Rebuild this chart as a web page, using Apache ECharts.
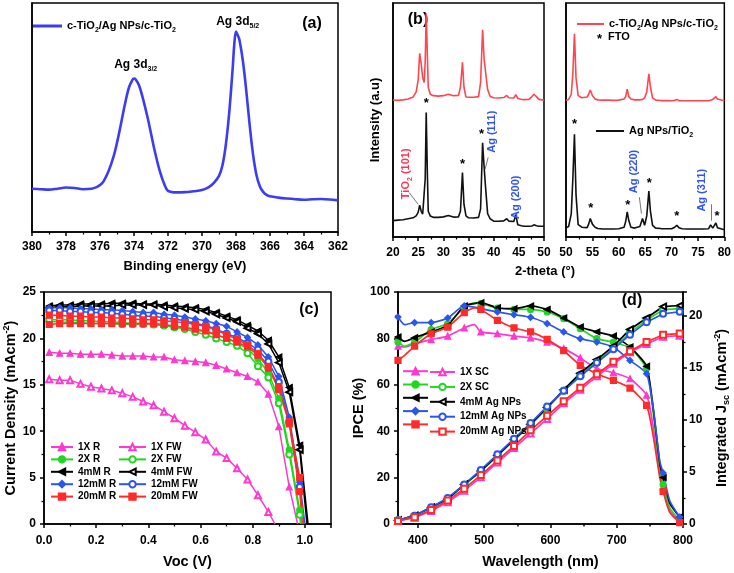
<!DOCTYPE html>
<html><head><meta charset="utf-8">
<script src="https://cdn.jsdelivr.net/npm/echarts@6/dist/echarts.min.js"></script>
<style>html,body{margin:0;padding:0;background:#fff}#c{width:734px;height:573px}</style>
</head><body><div id="c"></div>
<script>
// ---------- (a) XPS ----------
const xpsEnergy = [380,379.5,379,378.5,378,377.5,377,376.5,376.2,376,375.8,375.5,375.2,375,374.8,374.5,374.3,374.1,374,373.9,373.7,373.5,373.2,373,372.8,372.5,372.2,372,371.5,371,370.5,370,369.6,369.3,369,368.8,368.6,368.4,368.2,368.1,368,367.9,367.8,367.6,367.4,367.2,367,366.8,366.6,366.4,366.2,366,365.5,365,364.5,364,363.5,363,362.5,362];
const xpsIntensity = [18.9,18.7,18.5,18.9,19.4,19.2,18.7,18.9,19.6,20.5,22,26.5,33,39,46,57,63,66.3,67,66.6,64,59,50,43,36,27,20.5,18,17.3,17.4,17.8,18.3,19.6,21.5,24.5,29,38,52,71,82,87.5,86,84,75,62,47,34,25,20,17.5,16.2,15.6,15,14.6,14.3,14.1,14.3,14.4,14.2,13.8];

// ---------- (b) XRD ----------
const xrdLeftTheta = [20,21,22,23,24,24.6,25.0,25.3,25.6,25.9,26.2,26.4,26.6,26.8,27.0,27.4,28,29,30,31,32,33,33.4,33.8,34.1,34.5,35,36,37,37.4,37.8,38.1,38.4,38.8,39.3,40,41,42,42.6,43,44,44.4,44.8,45.5,46,47,47.6,48.0,48.5,49,50];
const xrdLeftRed = [58.5,58.4,58.6,59,59.8,62,67,78.5,74,68,66,75,95.4,80,64,61,60.4,60.2,60.4,61,60.4,60.5,64,74.7,64,59.8,59.7,59.7,60,66,88.6,76,70.4,63,60,59.5,59.4,59.6,60.5,59.5,59.4,60.8,59.2,58.9,58.7,58.8,60,61,60,58.8,58.5];
const xrdLeftBlack = [7.0,7.2,7.4,7.8,8.2,9.0,10.5,13.6,11,9.8,10.5,25,53.2,30,11,9,8.4,8.4,8.6,9.2,8.5,8.6,11,27.5,14,9.0,8.2,8.1,8.4,12,40.3,30,21,10,7.8,6.8,6.7,6.9,7.8,6.8,6.6,9.5,5.2,4.8,4.6,4.6,4.7,5.2,4.8,4.6,4.6];
const xrdRightTheta = [50,50.5,51.0,51.3,51.6,51.9,52.3,53,54,54.3,54.6,55.0,55.5,56,57,58,59,60,61,61.3,61.6,61.9,62.3,63,64,64.5,64.9,65.3,65.7,66.0,66.4,67,68,69,70,70.6,71.0,71.4,72,73,74,75,76,77,77.4,77.8,78.1,78.4,78.7,79,80];
const xrdRightRed = [58.5,58.8,61,70,86.8,68,60.4,59.5,59.8,61,62.8,60.5,59,58.6,58.5,58.5,58.4,58.5,59,60,63.2,60,59,58.6,58.6,58.8,59.5,62,69.7,64,59.5,58.5,58.3,58.3,58.2,58.4,58.8,58.3,58.2,58.2,58.2,58.2,58.2,58.3,58.4,58.8,59.5,60.0,59,58.3,58.2];
const xrdRightBlack = [3.9,4.5,10,25,43.9,18,5.3,4.2,4.0,5.5,7.9,5.5,4.2,3.6,3.4,3.4,3.4,3.5,4.2,6.5,10.7,7,4.2,3.8,4.5,7.9,5.0,9,19.6,11,5.0,3.8,3.6,3.5,3.5,4.2,5.0,4.0,3.5,3.4,3.4,3.4,3.4,3.5,5.2,3.8,4.5,6.0,4.0,3.3,3.1];
const ftoStarTheta = [26.6,33.8,37.6,51.6,54.7,61.7,65.8,71.0,78.6];
const ftoStarLevel = [57,31,44,48,12,13.5,23,9,9];

// ---------- (c) J-V ----------
const jvVoltage = [0.02,0.06,0.10,0.14,0.18,0.22,0.26,0.30,0.34,0.38,0.42,0.46,0.50,0.54,0.58,0.62,0.66,0.70,0.74,0.78,0.82,0.86,0.90,0.94,0.98];
const jv1XR   = [18.5,18.4,18.4,18.3,18.3,18.3,18.2,18.1,18.1,18.1,18.0,18.0,17.7,17.6,17.5,17.4,17.1,16.7,16.3,15.9,15.3,14.0,10.5,4.0];
const jv1XFW  = [15.6,15.5,15.5,15.1,14.8,14.6,14.4,14.1,13.7,13.2,12.8,12.1,11.4,10.6,9.9,9.1,7.8,7.1,6.0,4.8,3.1,1.3];
const jv2XR   = [21.8,21.8,21.7,21.7,21.6,21.6,21.6,21.5,21.5,21.5,21.5,21.4,21.3,21.1,20.9,20.7,20.4,20.0,19.5,18.9,17.8,16.3,13.5,8.0,1.5];
const jv2XFW  = [22.0,22.0,22.0,21.9,21.9,21.8,21.8,21.7,21.6,21.6,21.5,21.4,21.2,21.0,20.7,20.4,20.0,19.6,19.2,18.4,17.0,15.8,13.0,7.5,1.0];
const jv4mMR  = [23.5,23.6,23.6,23.7,23.7,23.7,23.8,23.8,23.8,23.7,23.7,23.6,23.5,23.4,23.3,23.1,22.8,22.4,22.0,21.4,20.8,19.8,18.0,14.7,8.5];
const jv4mMFW = [23.3,23.4,23.4,23.5,23.5,23.5,23.5,23.6,23.6,23.6,23.6,23.4,23.3,23.2,23.1,22.9,22.6,22.2,21.8,21.1,20.5,19.4,17.4,14.2,8.0];
const jv12mMR = [23.3,23.3,23.3,23.2,23.2,23.1,23.1,23.0,22.9,22.8,22.8,22.6,22.5,22.3,22.1,21.9,21.6,21.3,20.7,20.1,19.3,18.0,15.9,11.5,4.5];
const jv12mMFW= [23.0,23.0,22.9,22.9,22.8,22.8,22.7,22.6,22.5,22.4,22.4,22.2,22.1,21.9,21.6,21.4,21.0,20.5,20.1,19.5,18.8,17.5,15.3,11.0,4.0];
const jv20mMR = [22.5,22.5,22.4,22.4,22.3,22.3,22.2,22.2,22.1,22.0,22.0,21.9,21.8,21.7,21.5,21.3,20.9,20.4,19.9,19.3,18.4,17.0,14.8,11.0,5.0];
const jv20mMFW= [21.5,21.6,21.6,21.6,21.6,21.6,21.6,21.6,21.6,21.6,21.6,21.5,21.3,21.2,21.0,20.8,20.4,20.0,19.6,19.1,18.2,16.8,14.5,10.8,3.5];
const jvNames = ['1X R','1X FW','2X R','2X FW','4mM R','4mM FW','12mM R','12mM FW','20mM R','20mM FW'];
const jvVoc = [0.972,0.885,0.985,0.983,1.012,1.008,1.0,0.997,0.995,0.99];

// ---------- (d) IPCE & integrated Jsc ----------
const ipceWavelength = [370,380,395,420,445,470,485,495,520,545,570,595,620,645,670,695,720,745,755,765,770,780,795];
const ipce1X   = [76.7,76.3,77.7,79.5,81.0,84.5,85.9,82.8,82.0,81.0,80.2,78.4,75.6,71.6,67.0,65.2,62.6,55.5,42.0,22.0,16.0,6.0,0.9];
const ipce2X   = [78.4,76.6,78.4,83.8,86.4,93.5,95.3,95.0,93.1,92.5,92.5,91.4,88.5,84.2,79.9,78.4,75.9,67.0,48.0,24.0,17.0,7.0,1.6];
const ipce4mM  = [80.6,78.7,80.3,82.8,85.6,94.0,95.0,95.4,93.2,92.8,94.0,92.5,88.8,84.9,82.8,81.0,76.3,68.0,50.0,26.0,20.0,9.0,3.0];
const ipce12mM = [89.2,85.9,86.8,86.8,88.8,94.0,93.5,92.8,91.4,90.2,89.1,86.4,82.8,79.9,78.4,76.3,70.5,64.8,50.0,27.0,22.0,10.0,3.0];
const ipce20mM = [70.5,72.7,76.7,82.0,84.9,91.1,93.1,92.5,87.8,84.5,82.8,79.6,74.7,68.4,64.8,61.9,58.6,51.1,38.0,20.0,14.0,5.0,0.6];
const jscWavelength = [370,395,420,445,470,495,520,545,570,595,620,645,670,695,720,745,770,795];
const jsc1X   = [0.3,0.6,1.25,2.1,3.2,4.5,5.9,7.3,8.7,10.1,11.6,12.9,14.2,15.4,16.5,17.3,18.0,18.1];
const jsc2X   = [0.35,0.8,1.55,2.4,3.75,5.05,6.55,8.05,9.5,11.1,12.8,14.3,15.6,16.9,18.4,19.6,20.6,20.7];
const jsc4mM  = [0.35,0.8,1.6,2.4,3.8,5.1,6.6,8.1,9.6,11.2,12.9,14.5,15.8,17.1,18.7,19.8,20.9,21.0];
const jsc12mM = [0.35,0.8,1.6,2.5,3.8,5.2,6.7,8.2,9.7,11.3,12.8,14.2,15.5,16.8,18.2,19.4,20.2,20.4];
const jsc20mM = [0.3,0.65,1.35,2.25,3.4,4.7,6.1,7.5,9.0,10.4,11.8,13.1,14.4,15.6,16.6,17.5,18.2,18.3];
const ipceNames = ['1X SC','2X SC','4mM Ag NPs','12mM Ag NPs','20mM Ag NPs'];
const wlTicks = [400,500,600,700,800];
const wlMinorTicks = [450,550,650,750];

// ---------- styling ----------
const FF = "'Liberation Sans', Arial, Helvetica, sans-serif";
const COL = {mag:'#ff38d2', green:'#22d622', black:'#000000', blue:'#2a56f0', red:'#ff2a2a', xps:'#3c3cf2', xrdRed:'#ff4650'};
function richSet(fs, color){
  const s = Math.round(fs*0.62);
  return {
    n:{fontFamily:FF,fontWeight:'bold',fontSize:fs,color:color,lineHeight:fs+4},
    sub:{fontFamily:FF,fontWeight:'bold',fontSize:s,color:color,lineHeight:s+1,verticalAlign:'bottom'},
    sup:{fontFamily:FF,fontWeight:'bold',fontSize:s,color:color,lineHeight:s+1,verticalAlign:'top'}
  };
}
const lineSt = {color:'#000', width:1.5};
function baseAxis(gridIndex, o){
  const a = {
    type:'value', gridIndex:gridIndex,
    axisLine:{show:true,onZero:false,lineStyle:lineSt},
    axisTick:{show:true,inside:false,length:4,lineStyle:lineSt},
    minorTick:{show:true,splitNumber:2,length:2.5,lineStyle:{color:'#000',width:1.2}},
    axisLabel:{show:true,color:'#000',fontFamily:FF,fontWeight:'bold',fontSize:12,margin:9},
    splitLine:{show:false}, minorSplitLine:{show:false},
    nameLocation:'middle'
  };
  for (const k in o){
    if (o[k] && typeof o[k]==='object' && !Array.isArray(o[k]) && a[k] && typeof a[k]==='object') a[k]=Object.assign({},a[k],o[k]);
    else a[k]=o[k];
  }
  return a;
}
const hidden = {axisTick:{show:false},minorTick:{show:false},axisLabel:{show:false}};

const grids = [
  {left:32,top:3,width:306,height:229},
  {left:393,top:3,width:151,height:234},
  {left:566,top:3,width:160,height:234},
  {left:44,top:292,width:287,height:232},
  {left:398,top:292,width:285,height:232}
].map(g=>Object.assign({show:true,borderColor:'#000',borderWidth:1.5,backgroundColor:'transparent',containLabel:false},g));

const xAxes = [
  baseAxis(0,{min:362,max:380,interval:2,inverse:true,name:'Binding energy (eV)',nameGap:28,
    axisLabel:{margin:9},
    nameTextStyle:{fontFamily:FF,fontWeight:'bold',fontSize:13,color:'#000'}}),
  baseAxis(1,{min:20,max:50,interval:5,axisLabel:{margin:10}}),
  baseAxis(2,{min:50,max:80,interval:5,axisLabel:{margin:10}}),
  baseAxis(3,{min:0,max:1.1,interval:0.2,name:'Voc (V)',nameGap:30,
    axisLabel:{formatter:v=>v.toFixed(1),showMaxLabel:false,margin:11},
    nameTextStyle:{fontFamily:FF,fontWeight:'bold',fontSize:14.5,color:'#000'}}),
  baseAxis(4,{min:370,max:800,name:'Wavelength (nm)',nameGap:30,
    axisTick:{customValues:wlTicks},axisLabel:{customValues:wlTicks,margin:11},minorTick:{show:false},
    nameTextStyle:{fontFamily:FF,fontWeight:'bold',fontSize:14.5,color:'#000'}}),
  baseAxis(4,{min:370,max:800,position:'bottom',axisLine:{show:false},axisLabel:{show:false},
    axisTick:{customValues:wlMinorTicks,length:2.5},minorTick:{show:false}})
];
const yAxes = [
  baseAxis(0,Object.assign({min:0,max:100},hidden)),
  baseAxis(1,Object.assign({min:0,max:100,name:'Intensity (a.u)',nameGap:11,nameRotate:90,
    nameTextStyle:{fontFamily:FF,fontWeight:'bold',fontSize:13,color:'#000'}},hidden)),
  baseAxis(2,Object.assign({min:0,max:100},hidden)),
  baseAxis(3,{min:0,max:25,interval:5,name:'{n|Current Density (mAcm}{sup|-2}{n|)}',nameGap:23,nameRotate:90,
    axisLabel:{margin:8},
    nameTextStyle:{rich:richSet(14.5,'#000')}}),
  baseAxis(4,{min:0,max:100,interval:20,name:'IPCE (%)',nameGap:27,nameRotate:90,axisLabel:{margin:8},
    nameTextStyle:{fontFamily:FF,fontWeight:'bold',fontSize:14.5,color:'#000'}}),
  baseAxis(4,{min:0,max:22.3,interval:5,position:'right',name:'{n|Integrated J}{sub|sc}{n| (mAcm}{sup|-2}{n|)}',
    nameGap:30,nameRotate:90,axisLabel:{showMaxLabel:false,margin:6},
    nameTextStyle:{rich:richSet(14.5,'#000')}})
];

const zip = (xs, ys) => ys.map((y,i)=>[xs[i],y]);
const series = [];

// (a)
series.push({
  name:'XPS', type:'line', xAxisIndex:0, yAxisIndex:0, data:zip(xpsEnergy,xpsIntensity),
  smooth:0.35, symbol:'none', lineStyle:{color:COL.xps,width:2.6}, itemStyle:{color:COL.xps},
  markPoint:{silent:true,symbol:'circle',symbolSize:1,itemStyle:{color:'rgba(0,0,0,0)'},
    label:{show:true,position:'inside',rich:richSet(12,'#000')},
    data:[{coord:[367.9,92],label:{formatter:'{n|Ag 3d}{sub|5/2}'}},
          {coord:[373.9,73],label:{formatter:'{n|Ag 3d}{sub|3/2}'}}]}
});

// (b)
const starMP = (lo,hi)=>({silent:true,symbol:'circle',symbolSize:1,itemStyle:{color:'rgba(0,0,0,0)'},
  label:{show:true,position:'inside',formatter:'*',color:'#000',fontFamily:FF,fontWeight:'bold',fontSize:13},
  data:ftoStarTheta.map((t,i)=>({coord:[t,ftoStarLevel[i]]})).filter(d=>d.coord[0]>=lo&&d.coord[0]<=hi)});
const rotLbl = (t,v,txt,color)=>({coord:[t,v],label:{formatter:txt,rotate:90,rich:richSet(11,color)}});
const arrowML = (pairs)=>({silent:true,symbol:['none','arrow'],symbolSize:[0,5],animation:false,
  lineStyle:{color:'#777',width:1,type:'solid'},label:{show:false},
  data:pairs.map(p=>[{coord:[p[0],p[1]]},{coord:[p[2],p[3]]}])});
series.push({name:'c-TiO2/Ag NPs/c-TiO2',type:'line',xAxisIndex:1,yAxisIndex:1,data:zip(xrdLeftTheta,xrdLeftRed),
  symbol:'none',lineStyle:{color:COL.xrdRed,width:1.6},itemStyle:{color:COL.xrdRed}});
series.push({name:'Ag NPs/TiO2',type:'line',xAxisIndex:1,yAxisIndex:1,data:zip(xrdLeftTheta,xrdLeftBlack),
  symbol:'none',lineStyle:{color:'#111',width:1.6},itemStyle:{color:'#111'},
  markPoint:starMP(20,50),
  markLine:arrowML([[23.2,19,25.0,14],[38.9,34,38.3,29]])});
series.push({name:'XRD labels L',type:'line',xAxisIndex:1,yAxisIndex:1,data:[],symbol:'none',
  markPoint:{silent:true,symbol:'circle',symbolSize:1,itemStyle:{color:'rgba(0,0,0,0)'},
    label:{show:true,position:'inside'},
    data:[rotLbl(22.6,27,'{n|TiO}{sub|2}{n| (101)}','#ff3355'),
          rotLbl(39.6,45,'{n|Ag (111)}','#3355ee'),
          rotLbl(44.5,17,'{n|Ag (200)}','#3355ee')]}});
series.push({name:'c-TiO2/Ag NPs/c-TiO2',type:'line',xAxisIndex:2,yAxisIndex:2,data:zip(xrdRightTheta,xrdRightRed),
  symbol:'none',lineStyle:{color:COL.xrdRed,width:1.6},itemStyle:{color:COL.xrdRed}});
series.push({name:'Ag NPs/TiO2',type:'line',xAxisIndex:2,yAxisIndex:2,data:zip(xrdRightTheta,xrdRightBlack),
  symbol:'none',lineStyle:{color:'#111',width:1.6},itemStyle:{color:'#111'},
  markPoint:starMP(50,80),
  markLine:arrowML([[63.9,17,64.3,10],[77.5,14,77.5,7]])});
series.push({name:'XRD labels R',type:'line',xAxisIndex:2,yAxisIndex:2,data:[],symbol:'none',
  markPoint:{silent:true,symbol:'circle',symbolSize:1,itemStyle:{color:'rgba(0,0,0,0)'},
    label:{show:true,position:'inside'},
    data:[rotLbl(62.9,28,'{n|Ag (220)}','#3355ee'),
          rotLbl(75.7,20,'{n|Ag (311)}','#3355ee')]}});

// (c)
const jvData = [jv1XR,jv1XFW,jv2XR,jv2XFW,jv4mMR,jv4mMFW,jv12mMR,jv12mMFW,jv20mMR,jv20mMFW];
const jvColor = [COL.mag,COL.mag,COL.green,COL.green,COL.black,COL.black,COL.blue,COL.blue,COL.red,COL.red];
const jvSymbol = ['triangle','emptyTriangle','circle','emptyCircle','triangle','emptyTriangle','diamond','emptyCircle','rect','rect'];
const jvRotate = [0,0,0,0,90,90,0,0,0,0];
jvNames.forEach((nm,k)=>{
  const d = jvData[k].map((j,i)=>[jvVoltage[i],j]);
  d.push({value:[jvVoc[k],0],symbol:'none'});
  series.push({name:nm,type:'line',xAxisIndex:3,yAxisIndex:3,data:d,symbol:jvSymbol[k],symbolRotate:jvRotate[k],
    symbolSize:6,lineStyle:{color:jvColor[k],width:1.5},itemStyle:{color:jvColor[k],borderColor:jvColor[k],borderWidth:1.2}});
});

// (d)
const ipceData = [ipce1X,ipce2X,ipce4mM,ipce12mM,ipce20mM];
const jscData = [jsc1X,jsc2X,jsc4mM,jsc12mM,jsc20mM];
const dColor = [COL.mag,COL.green,COL.black,COL.blue,COL.red];
const dFilled = ['triangle','circle','triangle','diamond','rect'];
const dEmpty = ['emptyTriangle','emptyCircle','emptyTriangle','emptyCircle','emptyRect'];
const dRot = [0,0,90,0,0];
ipceNames.forEach((nm,k)=>{
  const d = ipceData[k].map((v,i)=>{
    const w = ipceWavelength[i];
    return jscWavelength.indexOf(w)>=0 ? [w,v] : {value:[w,v],symbol:'none'};
  });
  series.push({name:'IPCE '+nm,type:'line',xAxisIndex:4,yAxisIndex:4,data:d,smooth:0.2,symbol:dFilled[k],symbolRotate:dRot[k],
    symbolSize:6,lineStyle:{color:dColor[k],width:1.7},itemStyle:{color:dColor[k],borderColor:dColor[k],borderWidth:1.2}});
});
ipceNames.forEach((nm,k)=>{
  series.push({name:nm,type:'line',xAxisIndex:4,yAxisIndex:5,data:zip(jscWavelength,jscData[k]),symbol:dEmpty[k],symbolRotate:dRot[k],
    symbolSize:6,lineStyle:{color:dColor[k],width:1.7},itemStyle:{color:dColor[k],borderColor:dColor[k],borderWidth:1.2}});
});

const legTxt = {fontFamily:FF,fontWeight:'bold',fontSize:10,color:'#000'};
const legends = [
  {data:['XPS'],left:33,top:20.5,icon:'rect',itemWidth:29,itemHeight:3,formatter:()=>'{n|c-TiO}{sub|2}{n|/Ag NPs/c-TiO}{sub|2}',
    textStyle:{rich:richSet(11,'#000')}},
  {data:['c-TiO2/Ag NPs/c-TiO2'],left:577,top:18.5,icon:'rect',itemWidth:27,itemHeight:2,formatter:()=>'{n|c-TiO}{sub|2}{n|/Ag NPs/c-TiO}{sub|2}',
    textStyle:{rich:richSet(11,'#000')}},
  {data:['Ag NPs/TiO2'],left:596,top:125.5,icon:'rect',itemWidth:28,itemHeight:2,formatter:()=>'{n|Ag NPs/TiO}{sub|2}',
    textStyle:{rich:richSet(11,'#000')}},
  {data:['1X R','2X R','4mM R','12mM R','20mM R'],left:50,top:442,orient:'vertical',itemWidth:22,itemHeight:8,itemGap:2.4,textStyle:legTxt},
  {data:['1X FW','2X FW','4mM FW','12mM FW','20mM FW'],left:118,top:442,orient:'vertical',itemWidth:27,itemHeight:8,itemGap:2.4,textStyle:legTxt},
  {data:ipceNames.map(n=>'IPCE '+n),left:402,top:367,orient:'vertical',itemWidth:25,itemHeight:8,itemGap:4.9,formatter:()=>'',textStyle:legTxt},
  {data:ipceNames,left:429,top:367,orient:'vertical',itemWidth:25,itemHeight:8,itemGap:4.9,textStyle:legTxt}
].map(l=>Object.assign({selectedMode:false,padding:0},l));

const txt = (x,y,text,fs,align,extra)=>({type:'text',x:x,y:y,silent:true,
  style:Object.assign({text:text,fontFamily:FF,fontWeight:'bold',fontSize:fs,fill:'#000',align:align||'center',verticalAlign:'middle'},extra||{})});
const graphic = [
  txt(312,24,'(a)',16), txt(418,20,'(b)',16), txt(309,310,'(c)',16), txt(632,301,'(d)',16),
  txt(545,271,'2-theta (°)',13),
  txt(597,39,'*',13,'left'), txt(608,37,'FTO',11,'left')
];

const chart = echarts.init(document.getElementById('c'),null,{renderer:'canvas'});
chart.setOption({animation:false,backgroundColor:'#fff',grid:grids,xAxis:xAxes,yAxis:yAxes,series:series,legend:legends,graphic:graphic});
</script></body></html>
